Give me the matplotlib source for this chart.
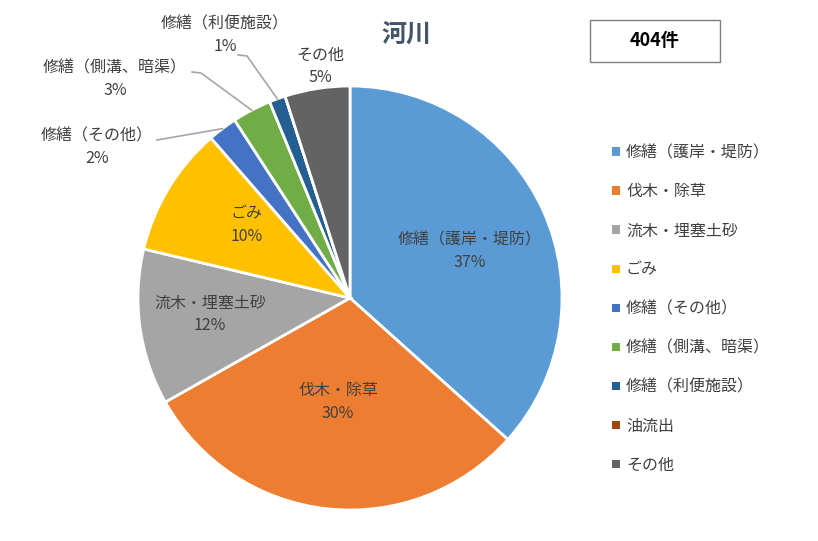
import numpy as np
import matplotlib.pyplot as plt
from matplotlib.patches import Patch, Rectangle

plt.rcParams["font.family"] = ["Noto Sans CJK JP", "DejaVu Sans"]

# データ
categories = ["修繕（護岸・堤防）", "伐木・除草", "流木・埋塞土砂", "ごみ", "修繕（その他）",
              "修繕（側溝、暗渠）", "修繕（利便施設）", "油流出", "その他"]
counts = [148, 122, 48, 40, 9, 12, 5, 0, 20]
colors = ["#5B9BD5", "#ED7D31", "#A5A5A5", "#FFC000", "#4472C4",
          "#70AD47", "#255E91", "#9E480E", "#636363"]
total_label = "404件"
title = "河川"

TEXT = "#404040"
W, H = 818, 541
CX, CY, R = 350, 298, 212  # centre / rayon du camembert en pixels


def px(x, y):
    # pixel (depuis le coin haut-gauche) -> coordonnées données (rayon = 1)
    return (x - CX) / R, (CY - y) / R


# position des étiquettes (pixels)
label_pos = {
    "修繕（護岸・堤防）": (470, 251),
    "伐木・除草": (338, 402),
    "流木・埋塞土砂": (210, 314),
    "ごみ": (247, 225),
    "修繕（その他）": (97, 147),
    "修繕（側溝、暗渠）": (115, 79),
    "修繕（利便施設）": (225, 35),
    "その他": (320, 66),
}
# début des lignes de rappel (pixels)
leader_start = {
    "修繕（その他）": [(157, 140)],
    "修繕（側溝、暗渠）": [(192, 72), (201, 73)],
    "修繕（利便施設）": [(238, 55), (247, 56)],
}

fig = plt.figure(figsize=(W / 100, H / 100), dpi=100)
ax = fig.add_axes([0, 0, 1, 1])

wedges, _ = ax.pie(
    counts,
    colors=colors,
    startangle=90,
    counterclock=False,
    radius=1,
    wedgeprops=dict(edgecolor="white", linewidth=2),
)

ax.set_xlim(-CX / R, (W - CX) / R)
ax.set_ylim(-(H - CY) / R, CY / R)
ax.axis("off")

tot = sum(counts)
for cat, n, w in zip(categories, counts, wedges):
    if cat not in label_pos:
        continue
    pct = f"{round(100 * n / tot)}%"
    lx, ly = px(*label_pos[cat])
    ax.text(lx, ly, f"{cat}\n{pct}", ha="center", va="center", fontsize=11.5,
            color=TEXT, linespacing=1.4)
    if cat in leader_start:
        ang = np.deg2rad((w.theta1 + w.theta2) / 2)
        pts = [px(*p) for p in leader_start[cat]] + [(np.cos(ang), np.sin(ang))]
        xs, ys = zip(*pts)
        ax.plot(xs, ys, color="#A6A6A6", linewidth=1.2)

# titre
tx, ty = px(406, 35)
ax.text(tx, ty, title, ha="center", va="center", fontsize=18, fontweight="bold",
        color="#44546A")

# encadré du total
bx0, by0 = px(590, 62)
bx1, by1 = px(720, 20)
ax.add_patch(Rectangle((bx0, by0), bx1 - bx0, by1 - by0, facecolor="white",
                       edgecolor="#7F7F7F", linewidth=1))
ax.text((bx0 + bx1) / 2, (by0 + by1) / 2, total_label, ha="center", va="center",
        fontsize=13, fontweight="bold", color="black")

# légende
handles = [Patch(facecolor=c, edgecolor="none") for c in colors]
leg = ax.legend(
    handles, categories,
    loc="upper left",
    bbox_to_anchor=(598 / W, 1 - 130 / H),
    bbox_transform=fig.transFigure,
    frameon=False,
    fontsize=11.5,
    handlelength=0.45,
    handleheight=0.45,
    handletextpad=0.4,
    labelspacing=1.38,
)
for t in leg.get_texts():
    t.set_color(TEXT)

fig.savefig("out.png", dpi=100)
